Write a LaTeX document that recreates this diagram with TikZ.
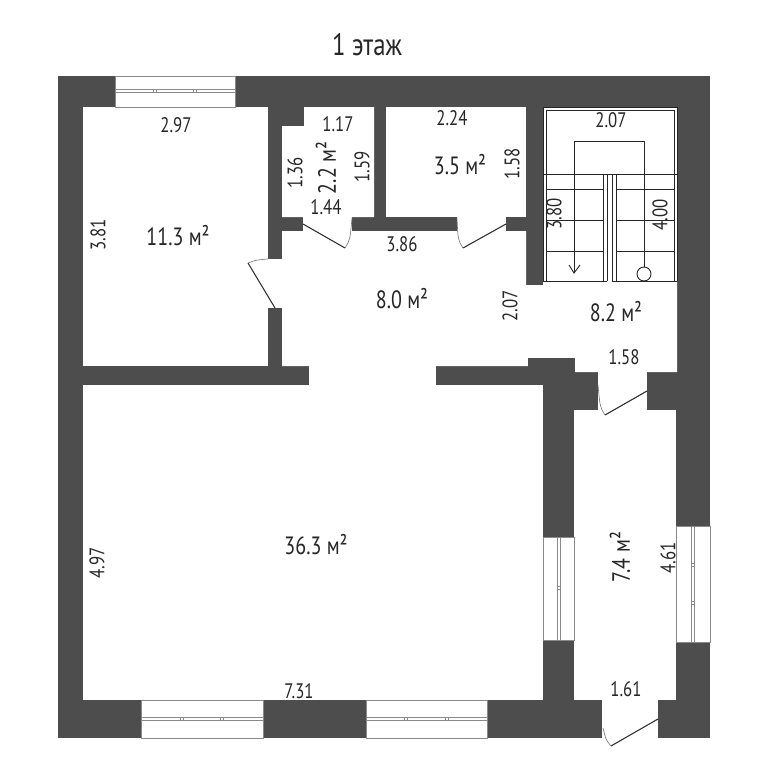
\documentclass[tikz,border=0pt]{standalone}
\usepackage{fontspec}
\setmainfont[FakeStretch=0.8]{PT Sans}
\definecolor{wallc}{HTML}{4D4D4D}
\definecolor{winc}{HTML}{8A8A8A}
\tikzset{
  wallfill/.style={fill=wallc,draw=none},
  floorfill/.style={fill=white,draw=none},
  winbox/.style={fill=white,draw=winc,line width=0.8pt},
  winbar/.style={fill=white,draw=winc,line width=0.7pt},
  doorleaf/.style={draw=black!80,line width=1.1pt},
  doorarc/.style={draw=black!55,line width=0.6pt},
  stairline/.style={draw=black!85,line width=0.9pt},
  lab/.style={font=\fontsize{21}{21}\selectfont,text=black!85,inner sep=0pt},
  vlab/.style={lab,rotate=90},
  arealab/.style={font=\fontsize{25}{25}\selectfont,text=black!85,inner sep=0pt},
  varealab/.style={arealab,rotate=90},
  titlelab/.style={font=\fontsize{31}{31}\selectfont,text=black!85,inner sep=0pt}
}
\newcommand{\winH}[5]{% x1 x2 y1 y2 ymid
  \draw[winbox] (#1,#3) rectangle (#2,#4);
  \draw[winbar] (#1,#5-1.5) rectangle (#2,#5+1.5);
  \pgfmathsetmacro{\wa}{#1+(#2-#1)/3}\pgfmathsetmacro{\wb}{#1+2*(#2-#1)/3}
  \draw[winbar] (\wa-1.5,#5-1.5) rectangle (\wa+1.5,#5+1.5);
  \draw[winbar] (\wb-1.5,#5-1.5) rectangle (\wb+1.5,#5+1.5);
}
\begin{document}
\begin{tikzpicture}[x=1pt,y=-1pt]
\useasboundingbox (0,0) rectangle (768,768);
\fill[white] (0,0) rectangle (768,768);
% walls
\path[wallfill] (58,76) rectangle (710,738);
% rooms
\path[floorfill] (83,107) rectangle (268,366);
\path[floorfill] (304,107) -- (374,107) -- (374,217) -- (282,217) -- (282,126) -- (304,126) -- cycle;
\path[floorfill] (386,107) rectangle (526,217);
\path[floorfill] (543,107) rectangle (677,283);
\path[floorfill] (282,231) -- (526,231) -- (526,285) -- (543,285) -- (543,282) -- (677,282)
  -- (677,372) -- (575,372) -- (575,358) -- (528,358) -- (528,366) -- (282,366) -- cycle;
\path[floorfill] (83,385) rectangle (543,700);
\path[wallfill] (528,358) rectangle (575,385);
\path[wallfill] (543,385) rectangle (574,410);
\path[floorfill] (574,410) rectangle (676,700);
% openings
\path[floorfill] (309,364) rectangle (436,387);
\path[floorfill] (598,370) rectangle (647,412);
\path[floorfill] (303,215) rectangle (352,233);
\path[floorfill] (457,215) rectangle (506,233);
\path[floorfill] (266,259) rectangle (284,308);
\path[floorfill] (602,698) rectangle (658,740);
% windows
\winH{115}{235}{76}{107}{91}
\winH{141}{263}{700.5}{738}{719}
\winH{366}{487}{700.5}{738}{719}
% side windows
\draw[winbox] (543,537) rectangle (574,640);
\draw[winbar] (557.5,537) rectangle (560.5,640);
\draw[winbar] (557.5,586.5) rectangle (560.5,589.5);
\draw[winbox] (676,526) rectangle (710,642);
\draw[winbar] (691.5,526) rectangle (694.5,642);
\draw[winbar] (691.5,563.5) rectangle (694.5,566.5);
\draw[winbar] (691.5,601.5) rectangle (694.5,604.5);
% doors
\coordinate (d1h) at (303,224); \coordinate (d1t) at (345,248); \coordinate (d1j) at (352,218);
\draw[doorleaf] (d1h) -- (d1t); \draw[doorarc] (d1t) .. controls (350,240) .. (d1j);
\coordinate (d2h) at (506,224); \coordinate (d2t) at (463,248); \coordinate (d2j) at (457,218);
\draw[doorleaf] (d2h) -- (d2t); \draw[doorarc] (d2t) .. controls (458,240) .. (d2j);
\coordinate (d3h) at (275,308); \coordinate (d3t) at (248,263); \coordinate (d3j) at (268,259);
\draw[doorleaf] (d3h) -- (d3t); \draw[doorarc] (d3t) .. controls (256,260) .. (d3j);
\coordinate (d4h) at (647,391); \coordinate (d4t) at (605,415); \coordinate (d4j) at (598,385);
\draw[doorleaf] (d4h) -- (d4t); \draw[doorarc] (d4t) .. controls (600,407) .. (d4j);
\coordinate (d5h) at (658,719); \coordinate (d5t) at (611,746); \coordinate (d5j) at (603,728);
\draw[doorleaf] (d5h) -- (d5t); \draw[doorarc] (d5t) .. controls (606,740) .. (d5j);
% stairs
\draw[stairline] (543,107) -- (677,107) -- (677,281);
\draw[stairline] (543,107) -- (543,281);
\draw[stairline] (546,110) -- (674,110) -- (674,281);
\draw[stairline] (546,110) -- (546,281);
\draw[stairline] (543,174) -- (677,174);
\draw[stairline] (603,174) -- (603,281) (607,174) -- (607,281) (612,174) -- (612,281) (616,174) -- (616,281);
\foreach \yy in {189,220,251} {
  \draw[stairline] (546,\yy) -- (603,\yy) (616,\yy) -- (674,\yy);
}
\draw[stairline] (543,281) -- (607,281) (612,281) -- (677,281);
\node[draw=black!85,line width=0.9pt,circle,minimum size=14pt,inner sep=0pt] (upc) at (644,274) {};
\coordinate (arrtip) at (574,273);
\draw[stairline] (arrtip) -- (574,141) -- (644,141) -- (upc.north);
\draw[stairline] (569,265) -- (arrtip) -- (580,265);
% labels
\node[titlelab] (t0) at (367,45) {1 этаж};
\node[lab] (l1) at (176,125) {2.97};
\node[lab] (l2) at (338,124) {1.17};
\node[lab] (l3) at (452,118) {2.24};
\node[arealab] (l4) at (460,165) {3.5 м²};
\node[vlab] (l5) at (512,164) {1.58};
\node[vlab] (l6) at (295,173) {1.36};
\node[varealab] (l7) at (326,168) {2.2 м²};
\node[vlab] (l8) at (362,167) {1.59};
\node[lab] (l9) at (326,207) {1.44};
\node[lab] (l10) at (402,244) {3.86};
\node[arealab] (l11) at (402,299) {8.0 м²};
\node[vlab] (l12) at (510,306) {2.07};
\node[lab] (l13) at (611,120) {2.07};
\node[vlab] (l14) at (554,214) {3.80};
\node[vlab] (l15) at (660,215) {4.00};
\node[arealab] (l16) at (616,312) {8.2 м²};
\node[lab] (l17) at (624,357) {1.58};
\node[vlab] (l18) at (98,235) {3.81};
\node[arealab] (l19) at (178,236) {11.3 м²};
\node[arealab] (l20) at (316,545) {36.3 м²};
\node[vlab] (l21) at (97,563) {4.97};
\node[lab] (l22) at (299,691) {7.31};
\node[varealab] (l23) at (620,557) {7.4 м²};
\node[vlab] (l24) at (668,558) {4.61};
\node[lab] (l25) at (626,689) {1.61};
\end{tikzpicture}
\end{document}
